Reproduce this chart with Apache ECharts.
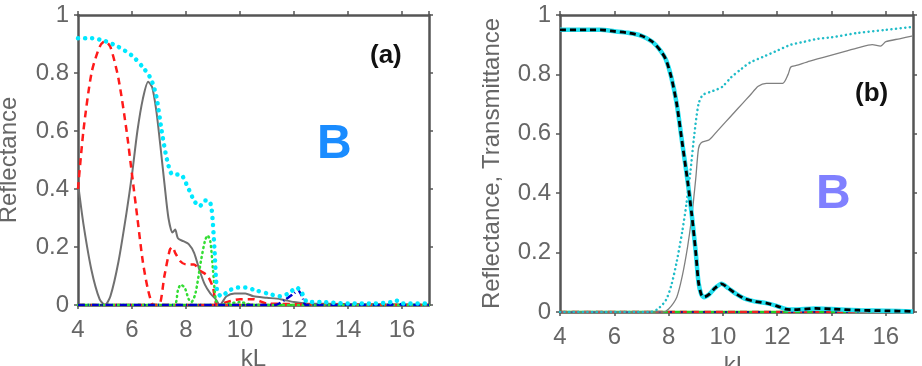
<!DOCTYPE html>
<html>
<head>
<meta charset="utf-8">
<script src="https://cdn.jsdelivr.net/npm/echarts@6/dist/echarts.min.js"></script>
<style>
  html, body { margin: 0; padding: 0; background: #fff; }
  #chart { width: 922px; height: 366px; }
</style>
</head>
<body>
<div id="chart"></div>
<script>
// ---- panel (a): reflectance ----
const aGrayX = [4, 4.2, 4.5, 4.8, 5.0, 5.2, 5.5, 5.8, 6.0, 6.2, 6.4, 6.6, 6.75, 6.9, 7.05, 7.2, 7.35, 7.5, 7.6, 7.7, 7.9, 8.1, 8.3, 8.5, 8.7, 8.9, 9.1, 9.25, 9.5, 9.8, 10.2, 10.5, 11.0, 11.5, 12.0, 12.5, 17];
const aGrayY = [0.42, 0.28, 0.12, 0.02, 0.0, 0.03, 0.15, 0.32, 0.45, 0.6, 0.71, 0.77, 0.75, 0.67, 0.55, 0.42, 0.3, 0.25, 0.26, 0.23, 0.22, 0.21, 0.18, 0.12, 0.07, 0.04, 0.02, 0.0, 0.03, 0.04, 0.04, 0.03, 0.025, 0.02, 0.01, 0.005, 0];

const aRedX = [4, 4.2, 4.5, 4.8, 5.0, 5.2, 5.5, 5.8, 6.0, 6.2, 6.4, 6.6, 6.8, 7.0, 7.2, 7.4, 7.5, 7.6, 7.8, 8.0, 8.3, 8.5, 8.8, 9.0, 9.15, 9.5, 10.0, 10.5, 11.0, 17];
const aRedY = [0.4, 0.6, 0.8, 0.89, 0.91, 0.89, 0.78, 0.6, 0.45, 0.3, 0.15, 0.05, 0.0, 0.0, 0.1, 0.19, 0.2, 0.18, 0.15, 0.14, 0.14, 0.12, 0.1, 0.06, 0.0, 0.01, 0.02, 0.02, 0.005, 0];

const aCyanX = [4, 4.5, 5.0, 5.5, 6.0, 6.4, 6.7, 6.9, 7.1, 7.3, 7.5, 7.8, 8.0, 8.3, 8.5, 8.7, 8.85, 8.95, 9.05, 9.15, 9.3, 9.6, 9.9, 10.2, 10.6, 11.0, 11.5, 11.8, 12.1, 12.3, 12.5, 13.0, 14.0, 15.0, 15.6, 15.8, 16.0, 17];
const aCyanY = [0.92, 0.92, 0.91, 0.89, 0.86, 0.82, 0.78, 0.72, 0.6, 0.5, 0.45, 0.45, 0.42, 0.36, 0.34, 0.36, 0.36, 0.33, 0.2, 0.05, 0.03, 0.05, 0.06, 0.06, 0.05, 0.04, 0.03, 0.04, 0.06, 0.04, 0.01, 0.01, 0.005, 0.005, 0.01, 0.015, 0.005, 0.005];

const aGreenX = [4, 7.55, 7.7, 7.8, 7.95, 8.1, 8.2, 8.35, 8.55, 8.7, 8.8, 8.9, 9.0, 9.1, 9.2, 10.0, 10.5, 17];
const aGreenY = [0, 0, 0.05, 0.07, 0.06, 0.02, 0.01, 0.04, 0.15, 0.22, 0.24, 0.22, 0.12, 0.02, 0, 0.01, 0, 0];

const aBlueX = [4, 11.3, 11.7, 12.0, 12.15, 12.3, 12.45, 15.6, 15.8, 16.0, 17];
const aBlueY = [0, 0, 0.02, 0.04, 0.05, 0.03, 0, 0, 0.01, 0, 0];

// curves that lie on the zero line
const baseX = [4, 17];
const baseY = [0, 0];

// ---- panel (b): reflectance and transmittance ----
const bReflX = [4, 5, 5.5, 6, 6.5, 7, 7.4, 7.7, 7.9, 8.1, 8.3, 8.5, 8.7, 8.85, 9.0, 9.1, 9.2, 9.3, 9.5, 9.7, 9.95, 10.2, 10.5, 10.8, 11.2, 11.6, 12.0, 12.3, 12.6, 13.4, 14, 15, 16, 17];
const bReflY = [0.95, 0.95, 0.95, 0.945, 0.94, 0.93, 0.91, 0.88, 0.85, 0.79, 0.7, 0.57, 0.44, 0.33, 0.2, 0.1, 0.06, 0.05, 0.06, 0.08, 0.095, 0.08, 0.06, 0.045, 0.035, 0.03, 0.02, 0.01, 0.008, 0.012, 0.01, 0.006, 0.004, 0.002];

const bTransCyanX = [4, 7.3, 7.6, 7.9, 8.1, 8.3, 8.5, 8.65, 8.8, 8.95, 9.1, 9.25, 9.5, 9.8, 10.0, 10.3, 10.7, 11.0, 11.5, 12.0, 12.5, 13.0, 13.5, 14.0, 15.0, 16.0, 17];
const bTransCyanY = [0, 0, 0.01, 0.04, 0.09, 0.17, 0.27, 0.36, 0.47, 0.6, 0.7, 0.73, 0.74, 0.75, 0.76, 0.79, 0.82, 0.84, 0.86, 0.88, 0.9, 0.91, 0.92, 0.925, 0.94, 0.95, 0.96];

const bTransGrayX = [4, 7.8, 8.0, 8.3, 8.5, 8.7, 8.85, 9.0, 9.1, 9.2, 9.5, 9.8, 10.1, 10.4, 10.7, 11.0, 11.3, 11.6, 12.2, 12.4, 12.5, 12.7, 13.2, 13.8, 14.4, 15.0, 15.5, 15.8, 16.0, 16.5, 17];
const bTransGrayY = [0, 0, 0.01, 0.05, 0.12, 0.22, 0.32, 0.45, 0.55, 0.57, 0.58, 0.61, 0.64, 0.67, 0.7, 0.73, 0.76, 0.77, 0.77, 0.8, 0.825, 0.83, 0.845, 0.86, 0.875, 0.89, 0.9, 0.895, 0.91, 0.92, 0.93];

const xTicks = { min: 4, max: 17, interval: 2 };
const yTicks = { min: 0, max: 1, interval: 0.2 };

const pairs = (xs, ys) => xs.map((x, i) => [x, ys[i]]);

const FONT = 'Liberation Sans, Arial, sans-serif';
const frameColor = '#555';
const labelColor = '#666';

function frameAxis(gridIndex, position, isX, withLabels, name, nameGap) {
  const ax = {
    type: 'value',
    gridIndex: gridIndex,
    position: position,
    min: isX ? xTicks.min : yTicks.min,
    max: isX ? xTicks.max : yTicks.max,
    interval: isX ? xTicks.interval : yTicks.interval,
    axisLine: { show: true, onZero: false, lineStyle: { color: frameColor, width: 2.5 } },
    axisTick: { show: true, inside: false, length: 4, lineStyle: { color: frameColor, width: 1.5 } },
    splitLine: { show: false },
    axisLabel: {
      show: withLabels,
      color: labelColor,
      fontSize: 24,
      fontFamily: FONT,
      margin: isX ? 13 : 9,
      showMaxLabel: isX ? false : true
    }
  };
  if (name) {
    ax.name = name;
    ax.nameLocation = 'middle';
    ax.nameGap = nameGap;
    ax.nameTextStyle = { color: labelColor, fontSize: 24, fontFamily: FONT };
  }
  return ax;
}

// panel a uses xAxis 0 / yAxis 0, panel b uses xAxis 2 / yAxis 2
function line(name, panel, xs, ys, color, width, type, z, cap) {
  const idx = panel === 'a' ? 0 : 2;
  return {
    name: name,
    type: 'line',
    xAxisIndex: idx,
    yAxisIndex: idx,
    data: pairs(xs, ys),
    showSymbol: false,
    symbol: 'none',
    smooth: 0.25,
    z: z,
    lineStyle: { color: color, width: width, type: type, cap: cap || 'butt' }
  };
}

const chart = echarts.init(document.getElementById('chart'), null, { renderer: 'canvas' });

const option = {
  animation: false,
  backgroundColor: '#fff',
  grid: [
    { left: 78, right: 493, top: 15, bottom: 61, containLabel: false, outerBoundsMode: 'none' },
    { left: 560, right: 9, top: 15, bottom: 54, containLabel: false, outerBoundsMode: 'none' }
  ],
  xAxis: [
    frameAxis(0, 'bottom', true, true, 'kL', 34),
    frameAxis(0, 'top', true, false),
    frameAxis(1, 'bottom', true, true, 'kL', 40),
    frameAxis(1, 'top', true, false)
  ],
  yAxis: [
    frameAxis(0, 'left', false, true, 'Reflectance', 57),
    frameAxis(0, 'right', false, false),
    frameAxis(1, 'left', false, true, 'Reflectance, Transmittance', 56),
    frameAxis(1, 'right', false, false)
  ],
  graphic: [
    { type: 'text', left: 370, top: 43, style: { text: '(a)', font: 'bold 26px ' + FONT, fill: '#111' } },
    { type: 'text', left: 317, top: 121, style: { text: 'B', font: 'bold 48px ' + FONT, fill: '#1a8cff' } },
    { type: 'text', left: 855, top: 81, style: { text: '(b)', font: 'bold 26px ' + FONT, fill: '#111' } },
    { type: 'text', left: 816, top: 171, style: { text: 'B', font: 'bold 48px ' + FONT, fill: '#8080ff' } }
  ],
  series: [
    // panel (a)
    line('base green a', 'a', baseX, baseY, '#22cc22', 2.5, 'solid', 2),
    line('base red a', 'a', baseX, baseY, '#ee2222', 2.5, [7, 5], 3),
    line('base blue a', 'a', baseX, baseY, '#1a1a8c', 2, [2, 9], 3),
    line('gray a', 'a', aGrayX, aGrayY, '#707070', 2, 'solid', 4),
    line('red a', 'a', aRedX, aRedY, '#ff1a1a', 2.5, [7, 5], 5),
    line('green a', 'a', aGreenX, aGreenY, '#33dd33', 2.5, [1, 4], 5, 'round'),
    line('blue a', 'a', aBlueX, aBlueY, '#0000cc', 2.5, [7, 3, 1, 3], 5),
    line('cyan a', 'a', aCyanX, aCyanY, '#00e8ff', 4.5, [0.1, 7], 6, 'round'),
    // panel (b)
    line('base green b', 'b', baseX, baseY, '#22cc22', 2.5, 'solid', 2),
    line('base red b', 'b', baseX, baseY, '#ee2222', 2.5, [7, 5], 3),
    line('base blue b', 'b', baseX, baseY, '#1a1a8c', 2, [2, 9], 3),
    line('gray T b', 'b', bTransGrayX, bTransGrayY, '#808080', 1.3, 'solid', 4),
    line('cyan T b', 'b', bTransCyanX, bTransCyanY, '#20bcc8', 2.5, [0.1, 4.5], 4, 'round'),
    line('cyan R b', 'b', bReflX, bReflY, '#22e0f0', 4.5, 'solid', 5),
    line('black R b', 'b', bReflX, bReflY, '#000', 2.8, [6, 4], 6)
  ]
};

chart.setOption(option);
</script>
</body>
</html>
